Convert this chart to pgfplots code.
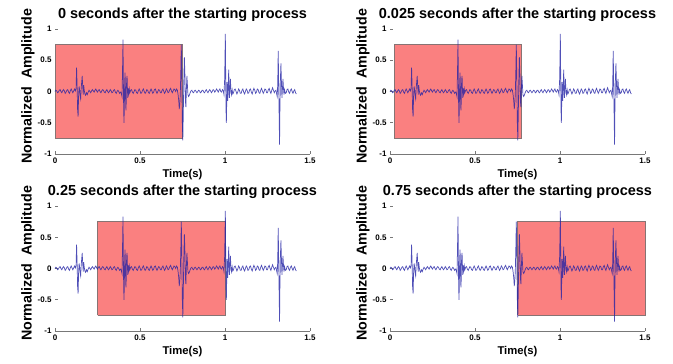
\documentclass[border=0pt]{standalone}
\usepackage{pgfplots}
\usepackage{pgfplotstable}
\pgfplotsset{compat=1.18}
\usepackage{fontspec}
\setmainfont{Liberation Sans}
\definecolor{boxred}{RGB}{250,128,128}
\definecolor{boxedge}{RGB}{135,115,115}
\definecolor{sig}{RGB}{35,35,165}
\pgfplotstableread{
t y
0.000 0.00
0.005 0.02
0.010 0.01
0.015 -0.02
0.020 -0.01
0.025 0.02
0.030 0.03
0.035 0.00
0.040 -0.02
0.045 0.01
0.050 0.03
0.055 0.01
0.060 -0.03
0.065 -0.01
0.070 0.02
0.075 0.03
0.080 -0.01
0.085 -0.03
0.090 0.01
0.095 0.04
0.100 0.01
0.105 -0.02
0.110 0.01
0.115 0.04
0.120 0.01
0.124 0.05
0.127 0.38
0.130 0.10
0.133 -0.30
0.136 -0.40
0.139 -0.05
0.142 0.08
0.145 0.02
0.148 -0.08
0.151 -0.12
0.154 0.05
0.157 0.15
0.160 0.25
0.163 0.08
0.166 -0.05
0.169 0.10
0.172 0.02
0.176 -0.04
0.180 -0.06
0.185 -0.02
0.190 -0.05
0.195 -0.01
0.200 0.02
0.205 0.00
0.210 -0.02
0.215 0.01
0.220 0.03
0.225 0.01
0.230 -0.01
0.235 0.02
0.240 0.04
0.245 0.01
0.250 -0.01
0.255 0.02
0.260 0.03
0.265 0.00
0.270 -0.02
0.275 0.01
0.280 0.03
0.285 0.02
0.290 -0.01
0.295 -0.02
0.300 0.01
0.305 0.03
0.310 0.00
0.315 -0.02
0.320 0.00
0.325 0.03
0.330 0.01
0.335 -0.02
0.340 -0.01
0.345 0.02
0.350 0.03
0.355 -0.01
0.360 -0.03
0.365 0.00
0.370 0.02
0.375 0.00
0.380 -0.03
0.385 -0.01
0.390 -0.03
0.394 -0.08
0.397 0.30
0.400 0.83
0.402 0.20
0.404 -0.30
0.406 -0.50
0.408 -0.20
0.410 0.15
0.412 0.30
0.414 0.10
0.416 -0.25
0.418 -0.30
0.420 0.05
0.422 0.20
0.424 0.25
0.426 0.05
0.428 -0.10
0.431 0.05
0.434 -0.03
0.437 0.04
0.440 -0.02
0.445 0.02
0.450 0.03
0.455 -0.01
0.460 -0.03
0.465 0.00
0.470 0.03
0.475 0.02
0.480 -0.02
0.485 -0.03
0.490 0.01
0.495 0.04
0.500 0.01
0.505 -0.03
0.510 -0.02
0.515 0.02
0.520 0.04
0.525 0.00
0.530 -0.03
0.535 -0.01
0.540 0.03
0.545 0.02
0.550 -0.02
0.555 -0.03
0.560 0.01
0.565 0.04
0.570 0.01
0.575 -0.03
0.580 -0.01
0.585 0.03
0.590 0.04
0.595 0.00
0.600 -0.03
0.605 0.00
0.610 0.03
0.615 0.02
0.620 -0.02
0.625 -0.02
0.630 0.02
0.635 0.04
0.640 0.00
0.645 -0.03
0.650 0.00
0.655 0.04
0.660 0.02
0.665 -0.02
0.670 -0.01
0.675 0.03
0.680 0.05
0.685 0.01
0.690 -0.02
0.695 0.01
0.700 0.04
0.705 0.03
0.710 0.00
0.715 0.04
0.720 0.02
0.724 -0.05
0.728 -0.15
0.731 -0.28
0.734 -0.20
0.737 -0.05
0.740 0.30
0.743 0.75
0.746 0.20
0.749 -0.50
0.752 -0.78
0.755 -0.30
0.758 0.20
0.761 0.55
0.764 0.30
0.767 -0.15
0.770 -0.25
0.773 0.05
0.776 0.25
0.779 0.10
0.782 -0.05
0.786 -0.08
0.790 -0.06
0.795 -0.02
0.800 0.01
0.805 0.02
0.810 -0.01
0.815 -0.02
0.820 0.01
0.825 0.02
0.830 0.00
0.835 -0.02
0.840 0.00
0.845 0.02
0.850 0.01
0.855 -0.02
0.860 -0.01
0.865 0.02
0.870 0.02
0.875 -0.01
0.880 -0.02
0.885 0.01
0.890 0.03
0.895 0.00
0.900 -0.02
0.905 0.01
0.910 0.03
0.915 0.01
0.920 -0.02
0.925 0.00
0.930 0.03
0.935 0.02
0.940 -0.01
0.945 0.01
0.950 0.04
0.955 0.02
0.960 -0.01
0.965 0.02
0.970 0.04
0.975 0.00
0.980 -0.01
0.985 0.03
0.990 0.01
0.994 -0.05
0.998 0.20
1.002 0.92
1.004 0.30
1.006 -0.30
1.008 -0.50
1.010 -0.20
1.012 0.15
1.014 0.05
1.016 -0.15
1.018 -0.05
1.020 0.20
1.022 0.35
1.024 0.10
1.026 -0.10
1.029 0.05
1.032 0.20
1.035 0.00
1.038 -0.05
1.042 0.03
1.046 -0.04
1.050 -0.02
1.055 0.03
1.060 0.04
1.065 0.00
1.070 -0.04
1.075 -0.01
1.080 0.04
1.085 0.02
1.090 -0.03
1.095 -0.03
1.100 0.02
1.105 0.04
1.110 -0.01
1.115 -0.04
1.120 0.00
1.125 0.04
1.130 0.02
1.135 -0.03
1.140 -0.02
1.145 0.03
1.150 0.04
1.155 -0.01
1.160 -0.04
1.165 0.01
1.170 0.05
1.175 0.02
1.180 -0.03
1.185 -0.01
1.190 0.04
1.195 0.03
1.200 -0.02
1.205 -0.03
1.210 0.02
1.215 0.05
1.220 0.01
1.225 -0.03
1.230 0.00
1.235 0.04
1.240 0.03
1.245 -0.02
1.250 -0.02
1.255 0.03
1.260 0.05
1.265 0.00
1.270 -0.03
1.275 0.02
1.280 0.06
1.285 0.02
1.290 -0.02
1.295 0.01
1.300 0.02
1.304 -0.04
1.307 -0.08
1.310 0.10
1.313 0.65
1.316 0.10
1.319 -0.50
1.321 -0.85
1.323 -0.30
1.326 0.20
1.329 0.45
1.332 0.15
1.335 -0.10
1.338 0.05
1.341 0.20
1.344 0.05
1.347 -0.05
1.350 0.03
1.355 -0.03
1.360 -0.02
1.365 0.03
1.370 0.04
1.375 -0.01
1.380 -0.03
1.385 0.02
1.390 0.04
1.395 0.00
1.400 -0.03
1.405 0.01
1.410 0.03
1.415 -0.02
1.420 -0.04
}\sig

\pgfplotsset{
  panel/.style={
    scale only axis, width=255pt, height=125pt,
    anchor=south west,
    xmin=0, xmax=1.5, ymin=-1, ymax=1,
    xtick={0,0.5,1,1.5}, ytick={-1,-0.5,0,0.5,1},
    axis x line=bottom, axis y line=left,
    axis line style={-},
    x axis line style={draw={rgb,255:red,120;green,120;blue,120}, line width=0.6pt},
    y axis line style={draw=none},
    tick align=inside, major tick length=2.5pt,
    tick style={draw={rgb,255:red,120;green,120;blue,120}, line width=0.5pt},
    /pgf/number format/assume math mode=true,
    tick label style={font=\bfseries\fontsize{8}{9}\selectfont},
    title style={at={(axis description cs:0.5,1.036)}, anchor=base, font=\bfseries\fontsize{14.5}{16}\selectfont},
    xlabel={Time(s)},
    xlabel style={at={(axis description cs:0.5,-0.192)}, anchor=base, font=\bfseries\fontsize{11.3}{13}\selectfont},
    ylabel={Normalized\ \ Amplitude},
    ylabel style={at={(axis description cs:-0.106,0.54)}, anchor=center, rotate=0, font=\bfseries\fontsize{14.3}{16}\selectfont},
    clip=false,
  },
  rect/.style={draw=boxedge, line width=0.6pt, fill=boxred},
  sigline/.style={sig, line width=0.7pt, draw opacity=0.8, no markers},
}

\begin{document}
\begin{tikzpicture}
\useasboundingbox (0,0) rectangle (673pt,364pt);
\begin{axis}[panel, at={(55pt,210pt)}, title={0 seconds after the starting process}]
\addplot[rect] coordinates {(0,-0.75) (0,0.75) (0.75,0.75) (0.75,-0.75) (0,-0.75)};
\addplot[sigline] table[x=t,y=y] {\sig};
\end{axis}
\begin{axis}[panel, at={(390pt,210pt)}, title={0.025 seconds after the starting process}]
\addplot[rect] coordinates {(0.025,-0.75) (0.025,0.75) (0.775,0.75) (0.775,-0.75) (0.025,-0.75)};
\addplot[sigline] table[x=t,y=y] {\sig};
\end{axis}
\begin{axis}[panel, at={(55pt,33pt)}, title={0.25 seconds after the starting process}]
\addplot[rect] coordinates {(0.25,-0.75) (0.25,0.75) (1,0.75) (1,-0.75) (0.25,-0.75)};
\addplot[sigline] table[x=t,y=y] {\sig};
\end{axis}
\begin{axis}[panel, at={(390pt,33pt)}, title={0.75 seconds after the starting process}]
\addplot[rect] coordinates {(0.75,-0.75) (0.75,0.75) (1.5,0.75) (1.5,-0.75) (0.75,-0.75)};
\addplot[sigline] table[x=t,y=y] {\sig};
\end{axis}
\end{tikzpicture}
\end{document}
